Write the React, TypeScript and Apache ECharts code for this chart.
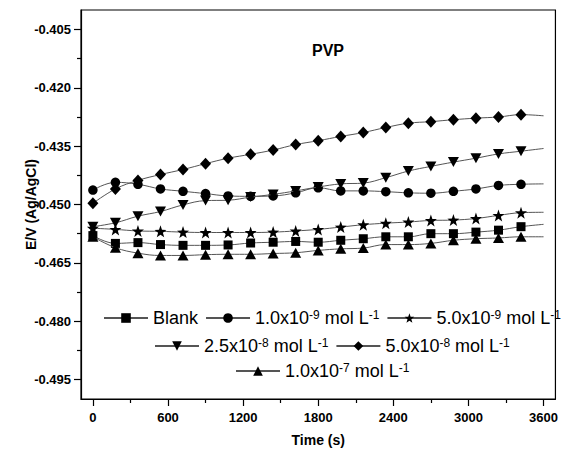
import React, { useEffect, useRef } from "react";
import * as echarts from "echarts";

const times = [0, 180, 360, 540, 720, 900, 1080, 1260, 1440, 1620, 1800, 1980, 2160, 2340, 2520, 2700, 2880, 3060, 3240, 3420, 3600];

const blank = [-0.4580, -0.4600, -0.4598, -0.4603, -0.4605, -0.4605, -0.4604, -0.4599, -0.4597, -0.4595, -0.4597, -0.4592, -0.4588, -0.4583, -0.4583, -0.4575, -0.4575, -0.4571, -0.4566, -0.4557, -0.4551];
const c1e9 = [-0.4463, -0.4443, -0.4448, -0.4460, -0.4466, -0.4472, -0.4478, -0.4479, -0.4478, -0.4470, -0.4457, -0.4465, -0.4465, -0.4467, -0.4470, -0.4471, -0.4466, -0.4460, -0.4451, -0.4448, -0.4447];
const c5e9 = [-0.4561, -0.4564, -0.4568, -0.4569, -0.4571, -0.4572, -0.4572, -0.4572, -0.4571, -0.4568, -0.4564, -0.4558, -0.4552, -0.4548, -0.4545, -0.4541, -0.4540, -0.4536, -0.4528, -0.4521, -0.4520];
const c25e8 = [-0.4557, -0.4547, -0.4530, -0.4518, -0.4501, -0.4490, -0.4489, -0.4481, -0.4474, -0.4465, -0.4455, -0.4447, -0.4445, -0.4431, -0.4414, -0.4402, -0.4391, -0.4381, -0.4370, -0.4363, -0.4356];
const c5e8 = [-0.4497, -0.4460, -0.4438, -0.4423, -0.4410, -0.4395, -0.4381, -0.4371, -0.4360, -0.4346, -0.4336, -0.4325, -0.4315, -0.4302, -0.4291, -0.4287, -0.4282, -0.4278, -0.4275, -0.4269, -0.4272];
const c1e7 = [-0.4583, -0.4611, -0.4625, -0.4631, -0.4631, -0.4629, -0.4628, -0.4628, -0.4626, -0.4624, -0.4618, -0.4614, -0.4612, -0.4603, -0.4603, -0.4600, -0.4592, -0.4588, -0.4586, -0.4583, -0.4583];

const seriesNames = [
  "Blank",
  "1.0x10-9 mol L-1",
  "5.0x10-9 mol L-1",
  "2.5x10-8 mol L-1",
  "5.0x10-8 mol L-1",
  "1.0x10-7 mol L-1",
];
const legendRich: Record<string, string> = {
  "Blank": "Blank",
  "1.0x10-9 mol L-1": "1.0x10{sup|-9} mol L{sup|-1}",
  "5.0x10-9 mol L-1": "5.0x10{sup|-9} mol L{sup|-1}",
  "2.5x10-8 mol L-1": "2.5x10{sup|-8} mol L{sup|-1}",
  "5.0x10-8 mol L-1": "5.0x10{sup|-8} mol L{sup|-1}",
  "1.0x10-7 mol L-1": "1.0x10{sup|-7} mol L{sup|-1}",
};

const xMajor = [0, 600, 1200, 1800, 2400, 3000, 3600];
const xMinor = [300, 900, 1500, 2100, 2700, 3300];
const yMajor = [-0.495, -0.48, -0.465, -0.45, -0.435, -0.42, -0.405];
const yMinor = [-0.4875, -0.4725, -0.4575, -0.4425, -0.4275, -0.4125];

const STAR = "path://M0,-10 L2.35,-3.24 L9.51,-3.09 L3.8,1.24 L5.88,8.09 L0,4 L-5.88,8.09 L-3.8,1.24 L-9.51,-3.09 L-2.35,-3.24 Z";

const FONT = "'Liberation Sans', Arial, Helvetica, sans-serif";

export default function App() {
  const ref = useRef<HTMLDivElement>(null);
  useEffect(() => {
    if (!ref.current) return;
    const chart = echarts.init(ref.current, undefined, { renderer: "svg" });
    const values = [blank, c1e9, c5e9, c25e8, c5e8, c1e7];
    const symbols: any[] = ["rect", "circle", STAR, "triangle", "diamond", "triangle"];
    const sizes: any[] = [9, 9.5, 12, [11, 10], [11, 12], [11, 10]];
    const rotates = [0, 0, 0, 180, 0, 0];
    const series = values.map((vals, i) => ({
      type: "line",
      name: seriesNames[i],
      xAxisIndex: 0,
      yAxisIndex: 0,
      smooth: 0.4,
      symbol: symbols[i],
      symbolSize: sizes[i],
      symbolRotate: rotates[i],
      showAllSymbol: true,
      lineStyle: { color: "#555", width: 1 },
      itemStyle: { color: "#000" },
      data: vals.map((v, j) =>
        j === vals.length - 1 ? { value: [times[j], v], symbol: "none" } : [times[j], v]
      ),
      z: 2 + i,
    }));
    const axisFont = { color: "#000", fontSize: 13, fontWeight: "bold", fontFamily: FONT };
    const legendCommon = {
      orient: "horizontal",
      padding: 0,
      itemGap: 7,
      itemWidth: 44,
      itemHeight: 12,
      width: 458,
      textStyle: {
        color: "#000",
        fontSize: 18,
        fontFamily: FONT,
        rich: { sup: { fontSize: 12, verticalAlign: "top", lineHeight: 12, fontFamily: FONT, color: "#000" } },
      },
      formatter: (name: string) => legendRich[name] || name,
    };
    chart.setOption({
      animation: false,
      backgroundColor: "#fff",
      grid: { left: 81, right: 2, top: 10, bottom: 52, show: true, borderColor: "#000", borderWidth: 1.2 },
      graphic: [
        {
          type: "text",
          x: 328,
          y: 50,
          style: { text: "PVP", fontSize: 16, fontWeight: "bold", fontFamily: FONT, fill: "#000", align: "center", verticalAlign: "middle" },
        },
      ],
      xAxis: [
        {
          type: "value",
          min: -95,
          max: 3695,
          position: "bottom",
          name: "Time (s)",
          nameLocation: "middle",
          nameGap: 34,
          nameMoveOverlap: false,
          nameTextStyle: { color: "#000", fontSize: 14, fontWeight: "bold", fontFamily: FONT },
          axisLine: { show: true, onZero: false, lineStyle: { color: "#000", width: 1.2 } },
          axisTick: { show: true, length: 7, customValues: xMajor, lineStyle: { color: "#000", width: 1.2 } },
          axisLabel: { ...axisFont, customValues: xMajor, margin: 12, formatter: (v: number) => String(v) },
          splitLine: { show: false },
        },
        {
          type: "value",
          min: -95,
          max: 3695,
          position: "bottom",
          axisLine: { show: false, onZero: false },
          axisTick: { show: true, length: 4, customValues: xMinor, lineStyle: { color: "#000", width: 1.2 } },
          axisLabel: { show: false },
          splitLine: { show: false },
        },
      ],
      yAxis: [
        {
          type: "value",
          min: -0.5,
          max: -0.4,
          position: "left",
          name: "E/V (Ag/AgCl)",
          nameLocation: "middle",
          nameGap: 43,
          nameMoveOverlap: false,
          nameTextStyle: { color: "#000", fontSize: 14, fontWeight: "bold", fontFamily: FONT },
          axisLine: { show: true, onZero: false, lineStyle: { color: "#000", width: 1.2 } },
          axisTick: { show: true, length: 7, customValues: yMajor, lineStyle: { color: "#000", width: 1.2 } },
          axisLabel: { ...axisFont, customValues: yMajor, margin: 10, formatter: (v: number) => v.toFixed(3) },
          splitLine: { show: false },
        },
        {
          type: "value",
          min: -0.5,
          max: -0.4,
          position: "left",
          axisLine: { show: false, onZero: false },
          axisTick: { show: true, length: 4, customValues: yMinor, lineStyle: { color: "#000", width: 1.2 } },
          axisLabel: { show: false },
          splitLine: { show: false },
        },
      ],
      legend: [
        { ...legendCommon, data: seriesNames.slice(0, 3), left: 103, top: 309 },
        { ...legendCommon, data: seriesNames.slice(3, 5), left: 154, top: 337 },
        { ...legendCommon, data: seriesNames.slice(5, 6), left: 235, top: 362 },
      ],
      series,
    });
    return () => chart.dispose();
  }, []);
  return <div ref={ref} style={{ position: "absolute", left: 0, top: 0, width: 561, height: 452 }} />;
}
